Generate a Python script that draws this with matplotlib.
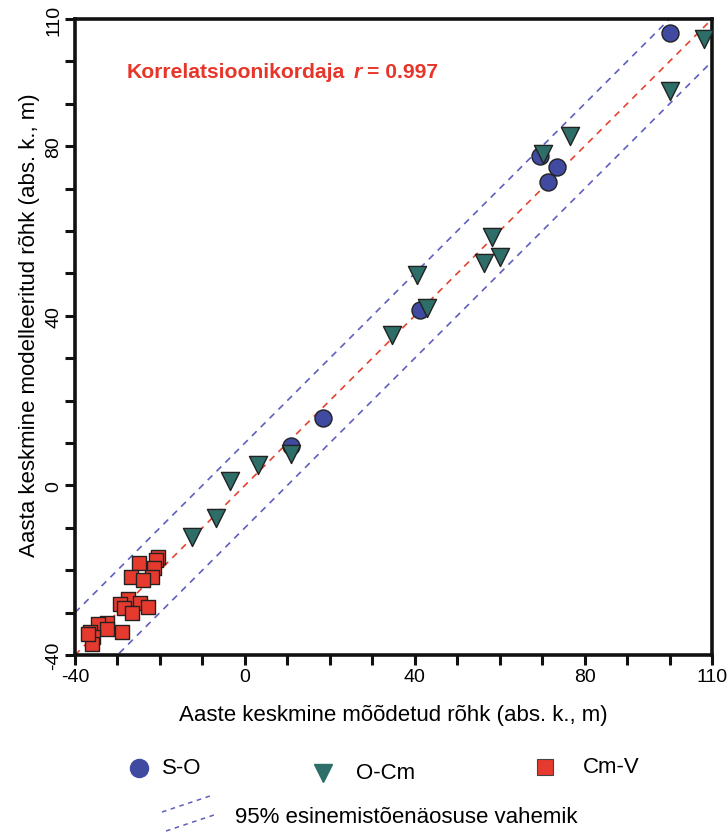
import matplotlib
matplotlib.use('Agg')
import matplotlib.pyplot as plt
from matplotlib.lines import Line2D

plt.rcParams['font.family'] = ['Liberation Sans', 'DejaVu Sans']

# ---- data ----
so_x = [100.2, 69.4, 73.6, 71.3, 41.2, 18.4, 10.8]
so_y = [106.6, 77.7, 75.1, 71.6, 41.3, 15.8, 9.4]

ocm_x = [108.0, 100.2, 76.5, 70.1, 58.1, 60.0, 56.2, 40.5, 42.8, 34.6,
         10.8, 3.1, -3.5, -6.8, -12.5]
ocm_y = [105.2, 93.1, 82.5, 78.2, 58.6, 53.9, 52.4, 49.6, 41.8, 35.4,
         7.5, 4.9, 1.1, -7.6, -12.1]

cmv_x = [-20.4, -20.9, -24.9, -21.3, -21.8, -26.8, -23.9, -27.5, -29.4, -24.7,
         -28.4, -22.9, -26.5, -32.5, -34.5, -32.5, -36.5, -28.9, -35.7, -36.1,
         -36.9]
cmv_y = [-16.8, -17.5, -18.3, -19.4, -21.6, -21.6, -22.3, -26.8, -27.9, -27.7,
         -28.9, -28.6, -30.1, -32.5, -32.7, -33.9, -34.6, -34.6, -35.8, -37.4,
         -35.0]

line_x = [-40, 110]
band = 10
r_value = 0.997

x_ticks = [-40, -30, -20, -10, 0, 10, 20, 30, 40, 50, 60, 70, 80, 90, 100, 110]
x_labels = ['-40', '', '', '', '0', '', '', '', '40', '', '', '', '80', '', '', '110']
y_ticks = x_ticks
y_labels = x_labels

c_blue = '#3f4aa0'
c_teal = '#2e6e68'
c_red = '#e63a2e'
c_band = '#5f5fbf'
c_fit = '#e5432f'
c_text_red = '#e8352a'

W, H = 728, 837
fig = plt.figure(figsize=(W / 100, H / 100), dpi=100)
L, R, T, B = 75, 712, 20, 656
ax = fig.add_axes([L / W, 1 - B / H, (R - L) / W, (B - T) / H])

ax.set_xlim(-40, 110)
ax.set_ylim(-40, 110)

# lines
ax.plot(line_x, line_x, ls=(0, (4, 3.5)), color=c_fit, lw=1.2, zorder=2)
ax.plot(line_x, [v + band for v in line_x], ls=(0, (4, 3.5)), color=c_band, lw=1.2, zorder=2)
ax.plot(line_x, [v - band for v in line_x], ls=(0, (4, 3.5)), color=c_band, lw=1.2, zorder=2)

ax.scatter(so_x, so_y, s=150, marker='o', color=c_blue, edgecolor='#222222', lw=1.0, zorder=3)
ax.scatter(ocm_x, ocm_y, s=170, marker='v', color=c_teal, edgecolor='#222222', lw=1.0, zorder=4)
ax.scatter(cmv_x, cmv_y, s=100, marker='s', color=c_red, edgecolor='#222222', lw=1.0, zorder=5)

for sp in ax.spines.values():
    sp.set_linewidth(2.6)
    sp.set_color('#111111')

ax.set_xticks(x_ticks)
ax.set_xticklabels(x_labels)
ax.set_yticks(y_ticks)
ax.set_yticklabels(y_labels, rotation=90, va='center')
ax.tick_params(direction='out', length=7, width=2.2, labelsize=14, pad=2, color='#111111')

ax.set_xlabel('Aaste keskmine mõõdetud rõhk (abs. k., m)', fontsize=16, labelpad=14)
ax.set_ylabel('Aasta keskmine modelleeritud rõhk (abs. k., m)', fontsize=16,
              labelpad=4, y=0.52)

# correlation text
fig.text(127 / W, 1 - 73 / H, 'Korrelatsioonikordaja', color=c_text_red,
         fontsize=15.2, fontweight='bold', va='center', ha='left')
fig.text(354 / W, 1 - 73 / H, 'r', color=c_text_red, fontsize=15.2,
         fontweight='bold', fontstyle='italic', va='center', ha='left')
fig.text(367 / W, 1 - 73 / H, '= %.3f' % r_value, color=c_text_red,
         fontsize=15.2, fontweight='bold', va='center', ha='left')

# legend drawn in a pixel-coordinate overlay
lg = fig.add_axes([0, 0, 1, 1], zorder=-1)
lg.set_xlim(0, W)
lg.set_ylim(H, 0)
lg.axis('off')
lg.add_line(Line2D([139], [769], marker='o', ms=13, color=c_blue, mec=c_blue, ls='none'))
lg.text(162, 769, 'S-O', fontsize=16, va='center', ha='left')
lg.add_line(Line2D([323], [774], marker='v', ms=13, color=c_teal, mec=c_teal, ls='none'))
lg.text(356, 774, 'O-Cm', fontsize=16, va='center', ha='left')
lg.add_line(Line2D([545], [768], marker='s', ms=11, color=c_red, mec='#444444', mew=0.8, ls='none'))
lg.text(583, 768, 'Cm-V', fontsize=16, va='center', ha='left')
lg.add_line(Line2D([162, 213], [813, 796], ls=(0, (3, 3)), color=c_band, lw=1.1))
lg.add_line(Line2D([166, 217], [832, 815], ls=(0, (3, 3)), color=c_band, lw=1.1))
lg.text(235, 818, '95% esinemistõenäosuse vahemik', fontsize=16, va='center', ha='left')

fig.savefig('out.png', dpi=100)
